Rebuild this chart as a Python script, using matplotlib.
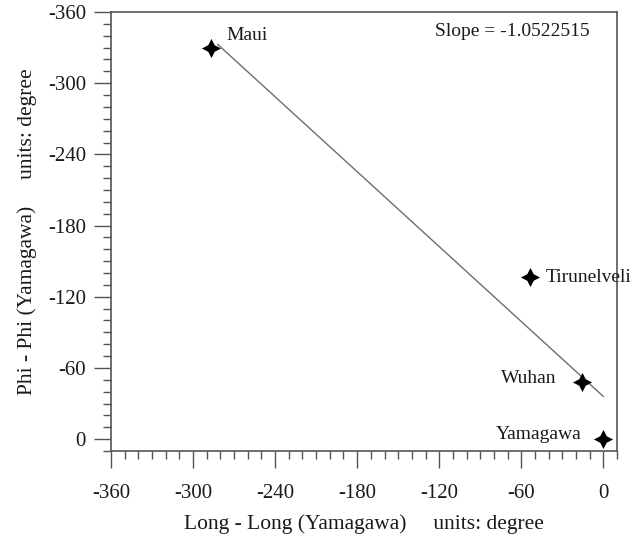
import matplotlib
matplotlib.use("Agg")
import matplotlib.pyplot as plt
from matplotlib.path import Path
from matplotlib.ticker import MultipleLocator
import numpy as np

# Station offsets relative to Yamagawa (degrees)
stations = ["Maui", "Tirunelveli", "Wuhan", "Yamagawa"]
long_diff = [-287, -53.5, -15.7, 0]
phi_diff = [-330, -137, -48, 0]

# Fitted line
slope = -1.0522515
intercept = -36
fit_x_range = [-282, 0]

x_ticks = [-360, -300, -240, -180, -120, -60, 0]
y_ticks = [-360, -300, -240, -180, -120, -60, 0]

plt.rcParams["font.family"] = ["Liberation Serif", "DejaVu Serif"]
plt.rcParams["axes.unicode_minus"] = False

fig = plt.figure(figsize=(6.34, 5.36), dpi=100)
ax = fig.add_axes([111 / 634, 1 - 451 / 536, (617 - 111) / 634, (451 - 12) / 536])

# four-pointed star marker
r_in = 0.34
star = Path(
    [(0, 1), (r_in, r_in), (1, 0), (r_in, -r_in), (0, -1), (-r_in, -r_in),
     (-1, 0), (-r_in, r_in), (0, 1)],
    [Path.MOVETO] + [Path.LINETO] * 7 + [Path.CLOSEPOLY],
)

fx = np.array(fit_x_range, dtype=float)
fy = intercept + abs(slope) * fx
ax.plot(fx, fy, color="#6e6e6e", lw=1.0, zorder=2)

ax.scatter(long_diff, phi_diff, marker=star, s=190, color="black", zorder=3,
           linewidths=0)

label_offsets = {
    "Maui": ((11, 9), "left"),
    "Tirunelveli": ((11, -1), "left"),
    "Wuhan": ((-18, 3), "right"),
    "Yamagawa": ((-16, 3), "right"),
}
for name, x, y in zip(stations, long_diff, phi_diff):
    (dx, dy), ha = label_offsets[name]
    ax.annotate(name, (x, y), xytext=(dx, dy), textcoords="offset points",
                ha=ha, va="center", fontsize=14, color="#1a1a1a")

ax.text(0.945, 0.975, f"Slope = {slope:.7f}", transform=ax.transAxes,
        ha="right", va="top", fontsize=14, color="#1a1a1a")

ax.set_xlim(-360, 10)
ax.set_ylim(10, -360)
ax.set_xticks(x_ticks)
ax.set_yticks(y_ticks)
ax.xaxis.set_minor_locator(MultipleLocator(10))
ax.yaxis.set_minor_locator(MultipleLocator(10))

ax.tick_params(which="major", direction="out", length=12, width=1.0,
               color="#555555", labelsize=15, labelcolor="#1a1a1a")
ax.tick_params(axis="x", which="major", pad=12)
ax.tick_params(axis="y", which="major", pad=6)
ax.tick_params(which="minor", direction="out", length=6, width=1.0,
               color="#555555")
ax.tick_params(top=False, right=False)

for s in ax.spines.values():
    s.set_color("#555555")
    s.set_linewidth(1.2)

ax.set_xlabel("Long - Long (Yamagawa)     units: degree", fontsize=15.5,
              color="#1a1a1a", labelpad=8)
ax.set_ylabel("Phi - Phi (Yamagawa)     units: degree", fontsize=15.5,
              color="#1a1a1a", labelpad=8)

fig.savefig("out.png", dpi=100)
